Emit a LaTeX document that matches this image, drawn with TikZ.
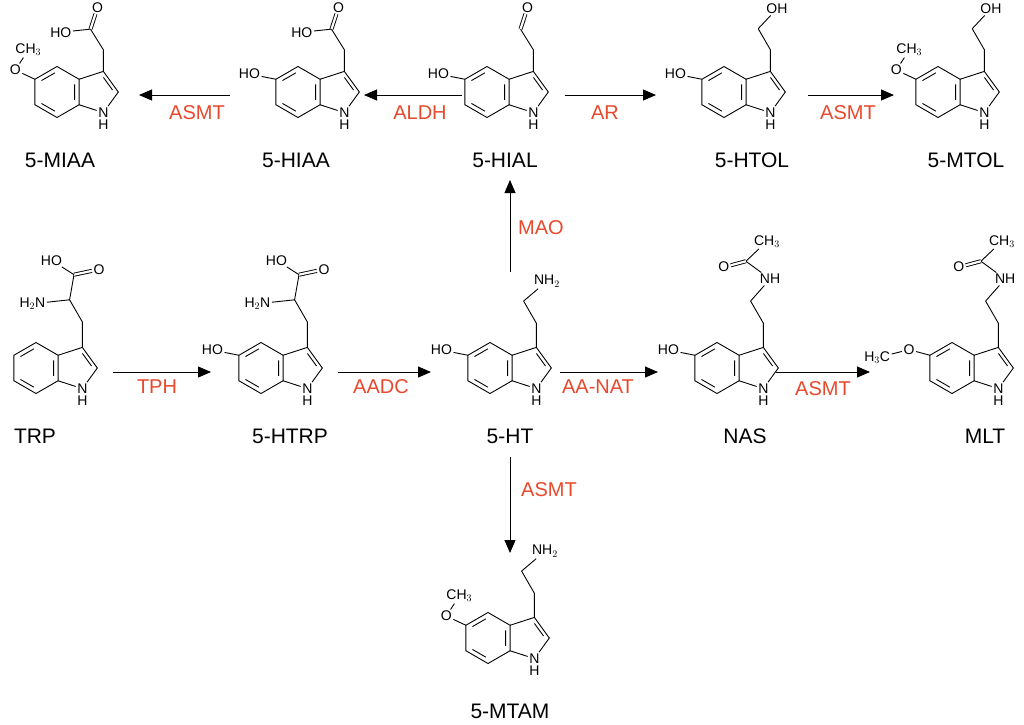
\documentclass[tikz,border=0pt]{standalone}
\usepackage{fontspec}
\setmainfont{Liberation Sans}
\usetikzlibrary{arrows.meta}
\definecolor{enz}{RGB}{232,72,44}
\newcommand\indolering[1]{%
  \coordinate (#1-c3) at (1.817,0.809);
  \coordinate (#1-c5) at (-0.866,0.5);
  \node[atom] (#1-n) at (1.817,-0.809) {N};
  \node[atom,anchor=north,inner sep=0pt] (#1-h) at (#1-n.south) {H};
  \draw (0,1) -- (-0.866,0.5) -- (-0.866,-0.5) -- (0,-1) -- (0.866,-0.5) -- (0.866,0.5) -- cycle;
  \draw (0.866,0.5) -- (#1-c3) -- (2.405,0) -- (#1-n) -- (0.866,-0.5);
  \draw (-0.083,0.752) -- (-0.610,0.448) (-0.610,-0.448) -- (-0.083,-0.752)
        (0.693,-0.304) -- (0.693,0.304) (1.821,0.570) -- (2.178,0.078);
}
\tikzset{
  atom/.style={inner sep=1.2pt,font=\fontsize{14}{14}\selectfont},
  mol/.style 2 args={shift={(#1,#2)},x=25.5pt,y=25.5pt},
  dbl/.style={double distance=2.2pt},
  mname/.style={font=\fontsize{21}{21}\selectfont},
  enzyme/.style={font=\fontsize{20}{20}\selectfont,text=enz},
  rx/.style={line width=0.9pt,-{Triangle[length=13pt,width=11pt]}},
  every path/.style={line width=0.9pt}
}
\begin{document}
\begin{tikzpicture}[x=1pt,y=-1pt]
\useasboundingbox (0,0) rectangle (1024,724);
% ---------- TRP
\begin{scope}[mol={36}{368}]
\indolering{trp}
\draw (trp-c3) -- ++(90:1) -- ++(120:1) coordinate (trp-ca) -- ++(80:1) coordinate (trp-cc);
\path (trp-ca) ++(190:0.9) node[atom,anchor=east] (trp-nh) {H$_2$N};
\draw (trp-ca) -- (trp-nh);
\path (trp-cc) ++(12:1) node[atom] (trp-o) {O};
\draw[dbl] (trp-cc) -- (trp-o);
\path (trp-cc) ++(135:0.8) node[atom,anchor=east,xshift=4pt] (trp-oh) {HO};
\draw (trp-cc) -- (trp-oh);
\end{scope}
% ---------- 5-HTRP
\begin{scope}[mol={261}{368}]
\indolering{htrp}
\path (htrp-c5) ++(160:0.6) node[atom,anchor=east] (htrp-oh5) {HO};
\draw (htrp-c5) -- (htrp-oh5);
\draw (htrp-c3) -- ++(90:1) -- ++(120:1) coordinate (htrp-ca) -- ++(80:1) coordinate (htrp-cc);
\path (htrp-ca) ++(190:0.9) node[atom,anchor=east] (htrp-nh) {H$_2$N};
\draw (htrp-ca) -- (htrp-nh);
\path (htrp-cc) ++(12:1) node[atom] (htrp-o) {O};
\draw[dbl] (htrp-cc) -- (htrp-o);
\path (htrp-cc) ++(135:0.8) node[atom,anchor=east,xshift=4pt] (htrp-oh) {HO};
\draw (htrp-cc) -- (htrp-oh);
\end{scope}
% ---------- 5-HT
\begin{scope}[mol={490}{368}]
\indolering{ht}
\path (ht-c5) ++(160:0.6) node[atom,anchor=east] (ht-oh5) {HO};
\draw (ht-c5) -- (ht-oh5);
\draw (ht-c3) -- ++(90:0.95) -- ++(120:1) coordinate (ht-b);
\path (ht-b) ++(55:0.95) node[atom,anchor=west,xshift=-5pt] (ht-nh) {NH$_2$};
\draw (ht-b) -- (ht-nh);
\end{scope}
% ---------- NAS
\begin{scope}[mol={717}{368}]
\indolering{nas}
\path (nas-c5) ++(160:0.6) node[atom,anchor=east] (nas-oh5) {HO};
\draw (nas-c5) -- (nas-oh5);
\draw (nas-c3) -- ++(90:0.95) -- ++(120:1) coordinate (nas-b);
\path (nas-b) ++(60:1) node[atom,anchor=west,xshift=-5pt] (nas-nh) {NH};
\draw (nas-b) -- (nas-nh);
\path (nas-nh.west) ++(125:0.85) coordinate (nas-cc);
\draw (nas-nh) -- (nas-cc);
\path (nas-cc) ++(60:0.9) node[atom,anchor=west,xshift=-5pt] (nas-me) {CH$_3$};
\draw (nas-cc) -- (nas-me);
\path (nas-cc) ++(195:0.9) node[atom] (nas-o) {O};
\draw[dbl] (nas-cc) -- (nas-o);
\end{scope}
% ---------- MLT
\begin{scope}[mol={952}{368}]
\indolering{mlt}
\path (mlt-c5) ++(165:0.85) node[atom] (mlt-o5) {O};
\draw (mlt-c5) -- (mlt-o5);
\path (mlt-o5) ++(205:0.75) node[atom,anchor=east] (mlt-me5) {H$_3$C};
\draw (mlt-o5) -- (mlt-me5);
\draw (mlt-c3) -- ++(90:0.95) -- ++(120:1) coordinate (mlt-b);
\path (mlt-b) ++(60:1) node[atom,anchor=west,xshift=-5pt] (mlt-nh) {NH};
\draw (mlt-b) -- (mlt-nh);
\path (mlt-nh.west) ++(125:0.85) coordinate (mlt-cc);
\draw (mlt-nh) -- (mlt-cc);
\path (mlt-cc) ++(60:0.9) node[atom,anchor=west,xshift=-5pt] (mlt-me) {CH$_3$};
\draw (mlt-cc) -- (mlt-me);
\path (mlt-cc) ++(195:0.9) node[atom] (mlt-o) {O};
\draw[dbl] (mlt-cc) -- (mlt-o);
\end{scope}
% ---------- 5-MTAM
\begin{scope}[mol={488}{638}]
\indolering{mtam}
\path (mtam-c5) ++(155:0.85) node[atom] (mtam-o5) {O};
\draw (mtam-c5) -- (mtam-o5);
\path (mtam-o5) ++(80:0.8) node[atom,anchor=west,xshift=-5pt] (mtam-me5) {CH$_3$};
\draw (mtam-o5) -- (mtam-me5);
\draw (mtam-c3) -- ++(90:0.95) -- ++(120:1) coordinate (mtam-b);
\path (mtam-b) ++(55:0.95) node[atom,anchor=west,xshift=-5pt] (mtam-nh) {NH$_2$};
\draw (mtam-b) -- (mtam-nh);
\end{scope}
% ---------- 5-HIAL
\begin{scope}[mol={487}{92}]
\indolering{hial}
\path (hial-c5) ++(160:0.6) node[atom,anchor=east] (hial-oh5) {HO};
\draw (hial-c5) -- (hial-oh5);
\draw (hial-c3) -- ++(90:0.85) -- ++(122:0.95) coordinate (hial-cc);
\path (hial-cc) ++(72:0.9) node[atom] (hial-o) {O};
\draw[dbl] (hial-cc) -- (hial-o);
\end{scope}
% ---------- 5-HIAA
\begin{scope}[mol={298}{92}]
\indolering{hiaa}
\path (hiaa-c5) ++(160:0.6) node[atom,anchor=east] (hiaa-oh5) {HO};
\draw (hiaa-c5) -- (hiaa-oh5);
\draw (hiaa-c3) -- ++(90:0.85) -- ++(122:0.95) coordinate (hiaa-cc);
\path (hiaa-cc) ++(72:0.9) node[atom] (hiaa-o) {O};
\draw[dbl] (hiaa-cc) -- (hiaa-o);
\path (hiaa-cc) ++(190:0.7) node[atom,anchor=east] (hiaa-oh) {HO};
\draw (hiaa-cc) -- (hiaa-oh);
\end{scope}
% ---------- 5-MIAA
\begin{scope}[mol={57}{92}]
\indolering{miaa}
\path (miaa-c5) ++(155:0.85) node[atom] (miaa-o5) {O};
\draw (miaa-c5) -- (miaa-o5);
\path (miaa-o5) ++(80:0.8) node[atom,anchor=west,xshift=-5pt] (miaa-me5) {CH$_3$};
\draw (miaa-o5) -- (miaa-me5);
\draw (miaa-c3) -- ++(90:0.85) -- ++(122:0.95) coordinate (miaa-cc);
\path (miaa-cc) ++(72:0.9) node[atom] (miaa-o) {O};
\draw[dbl] (miaa-cc) -- (miaa-o);
\path (miaa-cc) ++(190:0.7) node[atom,anchor=east] (miaa-oh) {HO};
\draw (miaa-cc) -- (miaa-oh);
\end{scope}
% ---------- 5-HTOL
\begin{scope}[mol={724}{92}]
\indolering{htol}
\path (htol-c5) ++(160:0.6) node[atom,anchor=east] (htol-oh5) {HO};
\draw (htol-c5) -- (htol-oh5);
\draw (htol-c3) -- ++(90:0.85) -- ++(120:0.95) coordinate (htol-b);
\path (htol-b) ++(60:0.9) node[atom,anchor=west,xshift=-5pt] (htol-oh) {OH};
\draw (htol-b) -- (htol-oh);
\end{scope}
% ---------- 5-MTOL
\begin{scope}[mol={938}{92}]
\indolering{mtol}
\path (mtol-c5) ++(155:0.85) node[atom] (mtol-o5) {O};
\draw (mtol-c5) -- (mtol-o5);
\path (mtol-o5) ++(80:0.8) node[atom,anchor=west,xshift=-5pt] (mtol-me5) {CH$_3$};
\draw (mtol-o5) -- (mtol-me5);
\draw (mtol-c3) -- ++(90:0.85) -- ++(120:0.95) coordinate (mtol-b);
\path (mtol-b) ++(60:0.9) node[atom,anchor=west,xshift=-5pt] (mtol-oh) {OH};
\draw (mtol-b) -- (mtol-oh);
\end{scope}
% ---------- names
\node[mname] (nTRP) at (35,436) {TRP};
\node[mname] (nHTRP) at (290,436) {5-HTRP};
\node[mname] (nHT) at (510,436) {5-HT};
\node[mname] (nNAS) at (745,436) {NAS};
\node[mname] (nMLT) at (985,436) {MLT};
\node[mname] (nMTAM) at (510,711) {5-MTAM};
\node[mname] (nMIAA) at (60,160) {5-MIAA};
\node[mname] (nHIAA) at (296,160) {5-HIAA};
\node[mname] (nHIAL) at (505,160) {5-HIAL};
\node[mname] (nHTOL) at (752,160) {5-HTOL};
\node[mname] (nMTOL) at (966,160) {5-MTOL};
% ---------- arrows
\coordinate (a1s) at (113,372); \coordinate (a1e) at (211,372);
\coordinate (a2s) at (338,372); \coordinate (a2e) at (431,372);
\coordinate (a3s) at (560,372); \coordinate (a3e) at (658,372);
\coordinate (a4s) at (776,372); \coordinate (a4e) at (870,372);
\coordinate (a5s) at (510,272); \coordinate (a5e) at (510,180);
\coordinate (a6s) at (510,457); \coordinate (a6e) at (510,553);
\coordinate (a7s) at (462,95); \coordinate (a7e) at (364,95);
\coordinate (a8s) at (230,95); \coordinate (a8e) at (139,95);
\coordinate (a9s) at (565,95); \coordinate (a9e) at (656,95);
\coordinate (a10s) at (808,95); \coordinate (a10e) at (894,95);
\foreach \i in {1,...,10} \draw[rx] (a\i s) -- (a\i e);
\node[enzyme] (eTPH) at (157,387) {TPH};
\node[enzyme] (eAADC) at (381,387) {AADC};
\node[enzyme] (eAANAT) at (598,387) {AA-NAT};
\node[enzyme] (eASMT1) at (823,389) {ASMT};
\node[enzyme] (eMAO) at (541,228) {MAO};
\node[enzyme] (eASMT2) at (549,490) {ASMT};
\node[enzyme] (eALDH) at (420,113) {ALDH};
\node[enzyme] (eASMT3) at (197,113) {ASMT};
\node[enzyme] (eAR) at (605,113) {AR};
\node[enzyme] (eASMT4) at (848,113) {ASMT};
\end{tikzpicture}
\end{document}
